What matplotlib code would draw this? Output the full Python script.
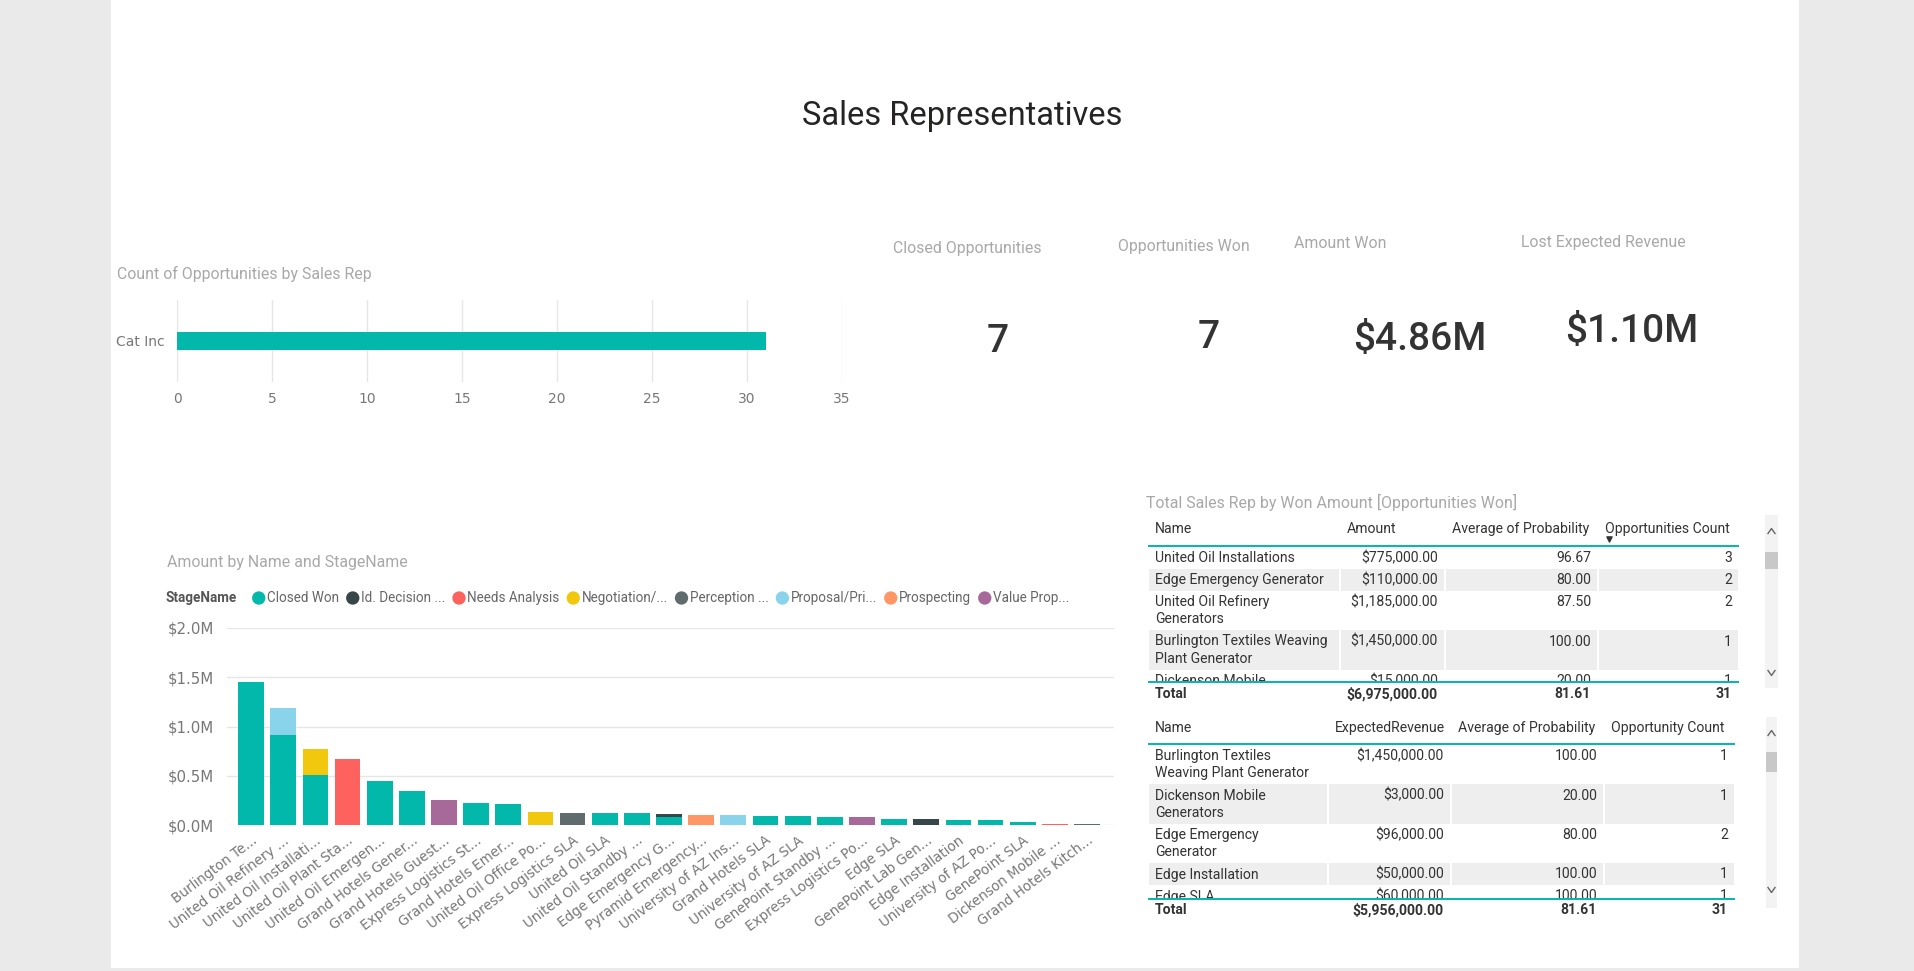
import matplotlib
matplotlib.use('Agg')
import matplotlib.pyplot as plt
from matplotlib.font_manager import FontProperties, fontManager
from matplotlib.patches import Rectangle
from matplotlib.transforms import Bbox
import numpy as np

# ---------------- data ----------------
rep_names = ["Cat Inc"]
rep_counts = [31]
rep_ticks = [0, 5, 10, 15, 20, 25, 30, 35]

kpi_labels = ["Closed Opportunities", "Opportunities Won", "Amount Won", "Lost Expected Revenue"]
kpi_values = ["7", "7", "$4.86M", "$1.10M"]

opp_labels = ["Burlington Te...", "United Oil Refinery ...", "United Oil Installati...",
              "United Oil Plant Sta...", "United Oil Emergen...", "Grand Hotels Gener...",
              "Grand Hotels Guest...", "Express Logistics St...", "Grand Hotels Emer...",
              "United Oil Office Po...", "Express Logistics SLA", "United Oil SLA",
              "United Oil Standby ...", "Edge Emergency G...", "Pyramid Emergency...",
              "University of AZ Ins...", "Grand Hotels SLA", "University of AZ SLA",
              "GenePoint Standby ...", "Express Logistics Po...", "Edge SLA",
              "GenePoint Lab Gen...", "Edge Installation", "University of AZ Po...",
              "GenePoint SLA", "Dickenson Mobile ...", "Grand Hotels Kitch..."]
stage_names = ["Closed Won", "Id. Decision ...", "Needs Analysis", "Negotiation/...",
               "Perception ...", "Proposal/Pri...", "Prospecting", "Value Prop..."]
stage_colors = ["#01B8AA", "#374649", "#FD625E", "#F2C80F", "#5F6B6D", "#8AD4EB", "#FE9666", "#A66999"]
closed_won     = [1450000, 915000, 505000, 0, 450000, 350000, 0, 220000, 210000, 0, 0, 120000, 120000,
                  80000, 0, 0, 90000, 90000, 85000, 0, 60000, 0, 50000, 50000, 30000, 0, 0]
id_decision    = [0]*13 + [30000] + [0]*7 + [60000] + [0]*5
needs_analysis = [0, 0, 0, 675000] + [0]*21 + [15000, 0]
negotiation    = [0, 0, 270000] + [0]*6 + [130000] + [0]*17
perception     = [0]*10 + [120000] + [0]*15 + [15000]
proposal       = [0, 270000] + [0]*13 + [100000] + [0]*11
prospecting    = [0]*14 + [100000] + [0]*12
value_prop     = [0]*6 + [250000] + [0]*12 + [80000] + [0]*7
amount_ticks = [0, 500000, 1000000, 1500000, 2000000]
amount_tick_labels = ["$0.0M", "$0.5M", "$1.0M", "$1.5M", "$2.0M"]

t1_title = "Total Sales Rep by Won Amount [Opportunities Won]"
t1_cols = ["Name", "Amount", "Average of Probability", "Opportunities Count"]
t1_names = ["United Oil Installations", "Edge Emergency Generator", "United Oil Refinery\nGenerators",
            "Burlington Textiles Weaving\nPlant Generator", "Dickenson Mobile\nGenerators"]
t1_amount = [775000, 110000, 1185000, 1450000, 15000]
t1_prob = [96.67, 80.00, 87.50, 100.00, 20.00]
t1_count = [3, 2, 2, 1, 1]
t1_total = [6975000, 81.61, 31]

t2_cols = ["Name", "ExpectedRevenue", "Average of Probability", "Opportunity Count"]
t2_names = ["Burlington Textiles\nWeaving Plant Generator", "Dickenson Mobile\nGenerators",
            "Edge Emergency\nGenerator", "Edge Installation", "Edge SLA"]
t2_revenue = [1450000, 3000, 96000, 50000, 60000]
t2_prob = [100.00, 20.00, 80.00, 100.00, 100.00]
t2_count = [1, 1, 2, 1, 1]
t2_total = [5956000, 81.61, 31]

# ---------------- fonts ----------------
avail = {f.name for f in fontManager.ttflist}
BODY = 'Roboto' if 'Roboto' in avail else 'DejaVu Sans'
TITLE_FONT = BODY
KPI_FONT = 'Liberation Sans Narrow' if 'Liberation Sans Narrow' in avail else BODY

W, H = 1915, 971
fig = plt.figure(figsize=(W / 100, H / 100), dpi=100)
fig.patch.set_facecolor('#EAEAEA')
R = fig.canvas.get_renderer()


def tw(s, family, weight='normal', size=10):
    fp = FontProperties(family=family, weight=weight, size=size)
    return R.get_text_width_height_descent(s, fp, ismath=False)[0]


def fit(s, target, family, weight='normal'):
    return 10.0 * target / tw(s, family, weight)


title_sz = fit("Sales Representatives", 321, TITLE_FONT)
card_sz = fit("Closed Opportunities", 148, BODY)
kpi_sz = fit("$4.86M", 133, KPI_FONT, 'medium')
ctitle_sz = fit("Count of Opportunities by Sales Rep", 254, BODY)
legend_sz = fit("Closed Won", 72, BODY)
tick_sz = fit("$0.0M", 42, BODY)
cat_sz = fit("Cat Inc", 43, BODY)
table_sz = fit("United Oil Installations", 139, BODY)
ttitle_sz = fit(t1_title, 369, BODY)

# overlay axes in pixel coordinates
ov = fig.add_axes([0, 0, 1, 1], zorder=-1)
ov.set_xlim(0, W)
ov.set_ylim(H, 0)
ov.axis('off')
ov.add_patch(Rectangle((111, 0), 1799 - 111, 968, facecolor='white', edgecolor='none'))

TXT = '#333333'
LIGHT = '#A8A8A8'
TICK = '#777777'
TEAL = '#01B8AA'


def T(x, y, s, size, color=TXT, ha='left', va='center', family=BODY, weight='normal', **kw):
    return ov.text(x, y, s, fontsize=size, color=color, ha=ha, va=va, family=family,
                   fontweight=weight, **kw)


# title
T(962, 116, "Sales Representatives", title_sz, color='#252423', ha='center', family=TITLE_FONT)

# ---------------- horizontal bar chart ----------------
T(117, 274, "Count of Opportunities by Sales Rep", ctitle_sz, color=LIGHT)
ax1 = fig.add_axes([177 / W, 1 - 382 / H, (842 - 177) / W, (382 - 300) / H])
ax1.set_facecolor('none')
ax1.barh(np.arange(len(rep_names)), rep_counts, height=0.21, color=TEAL, zorder=3)
ax1.set_xlim(0, 35)
ax1.set_ylim(-0.5, 0.5)
ax1.set_xticks(rep_ticks)
ax1.set_yticks(np.arange(len(rep_names)))
ax1.set_yticklabels(rep_names)
ax1.grid(axis='x', color='#E6E6E6', lw=1, zorder=0)
for s in ax1.spines.values():
    s.set_visible(False)
ax1.tick_params(axis='both', length=0, colors=TICK)
ax1.tick_params(axis='x', labelsize=cat_sz, pad=7)
ax1.tick_params(axis='y', labelsize=cat_sz, pad=9)

# ---------------- KPI cards ----------------
card_label_pos = [(967, 249), (1184, 246), (1340, 243), (1603, 242)]
card_value_pos = [(998, 342), (1209, 338), (1420, 340), (1632, 331)]
for lbl, val, (lx, ly), (vx, vy) in zip(kpi_labels, kpi_values, card_label_pos, card_value_pos):
    T(lx, ly, lbl, card_sz, color=LIGHT, ha='center')
    T(vx, vy, val, kpi_sz, color='#333333', ha='center', family=KPI_FONT, weight='medium')

# ---------------- stacked column chart ----------------
T(167, 563, "Amount by Name and StageName", ctitle_sz, color=LIGHT)
T(166, 598, "StageName", legend_sz, color='#555555', weight='bold')
x = 166 + tw("StageName", BODY, 'bold', legend_sz) + 15
for name, col in zip(stage_names, stage_colors):
    ov.scatter([x + 6.5], [598], s=92, color=col, edgecolors='none')
    T(x + 15, 598, name, legend_sz, color='#666666')
    x = x + 15 + tw(name, BODY, 'normal', legend_sz) + 7

ax2 = fig.add_axes([227 / W, 1 - 825 / H, (1114 - 227) / W, (825 - 628) / H])
ax2.set_facecolor('none')
xs = np.arange(len(opp_labels))
bottom = np.zeros(len(opp_labels))
for series, col in zip([closed_won, id_decision, needs_analysis, negotiation, perception,
                        proposal, prospecting, value_prop], stage_colors):
    vals = np.array(series, dtype=float)
    ax2.bar(xs, vals, bottom=bottom, width=0.8, color=col, zorder=3)
    bottom += vals
ax2.set_xlim(-0.75, 26.84)
ax2.set_ylim(0, 2000000)
ax2.set_yticks(amount_ticks)
ax2.set_yticklabels(amount_tick_labels)
ax2.set_xticks(xs)
ax2.set_xticklabels(opp_labels, rotation=37, ha='right', rotation_mode='anchor')
ax2.grid(axis='y', color='#E6E6E6', lw=1, zorder=0)
for s in ax2.spines.values():
    s.set_visible(False)
ax2.tick_params(axis='both', length=0, colors=TICK)
ax2.tick_params(axis='y', labelsize=tick_sz, pad=9)
ax2.tick_params(axis='x', labelsize=legend_sz, pad=6)


# ---------------- tables ----------------
def money(v):
    return "${:,.2f}".format(v)


def draw_table(cols, bounds, header_y, line_y, rows, row_h, total_line, total_y, total_vals):
    for c, bl in zip(cols, bounds[:-1]):
        T(bl + 7, header_y, c, table_sz, color=TXT)
    ov.plot([bounds[0], bounds[-1]], [line_y, line_y], color=TEAL, lw=1.4, solid_capstyle='butt')
    clip = Rectangle((bounds[0], line_y), bounds[-1] - bounds[0], total_line - line_y,
                     transform=ov.transData, facecolor='none', edgecolor='none')
    ov.add_patch(clip)
    # display-space clip box (1 data unit == 1 pixel, y flipped)
    cbox = Bbox.from_extents(bounds[0], H - total_line + 1, bounds[-1], H - line_y)
    top = line_y + 1
    for i, (cells, h) in enumerate(zip(rows, row_h)):
        if i % 2 == 1:
            for j in range(len(bounds) - 1):
                r = Rectangle((bounds[j] + 1, top), bounds[j + 1] - bounds[j] - 2, h,
                              facecolor='#EEEEEE', edgecolor='none')
                ov.add_patch(r)
                r.set_clip_path(clip)
        ty = top + 11
        partial = top + h > total_line  # row cut by the total line: only its first line shows
        for j, cell in enumerate(cells):
            if j == 0:
                if partial:
                    cell = cell.split('\n')[0]
                t = T(bounds[0] + 7, ty, cell, table_sz, linespacing=1.3)
                if '\n' in cell:
                    t.set_va('top')
                    t.set_y(top + 4)
            else:
                t = T(bounds[j + 1] - 7, ty, cell, table_sz, ha='right')
            t.set_clip_on(True)
            t.set_clip_box(cbox)
        top += h
    ov.plot([bounds[0], bounds[-1]], [total_line, total_line], color=TEAL, lw=1.4, solid_capstyle='butt')
    T(bounds[0] + 7, total_y, "Total", table_sz, weight='bold')
    for j, v in enumerate(total_vals):
        T(bounds[j + 2] - 7, total_y, v, table_sz, ha='right', weight='bold')


def scrollbar(x0, x1, y0, y1, th0, th1, up_y, dn_y):
    ov.add_patch(Rectangle((x0, y0), x1 - x0, y1 - y0, facecolor='#F3F3F3', edgecolor='none'))
    ov.add_patch(Rectangle((x0, th0), x1 - x0, th1 - th0, facecolor='#C8C8C8', edgecolor='none'))
    cx = (x0 + x1) / 2
    ov.plot([cx - 3.5, cx, cx + 3.5], [up_y + 2.5, up_y - 2.5, up_y + 2.5], color='#666666', lw=1)
    ov.plot([cx - 3.5, cx, cx + 3.5], [dn_y - 2.5, dn_y + 2.5, dn_y - 2.5], color='#666666', lw=1)


T(1146, 502, t1_title, ttitle_sz, color=LIGHT)
rows1 = [[n, money(a), "{:.2f}".format(p), str(c)] for n, a, p, c in zip(t1_names, t1_amount, t1_prob, t1_count)]
h1 = [22 if '\n' not in n else 39.5 for n in t1_names]
draw_table(t1_cols, [1148, 1340, 1445, 1598, 1739], 529, 546, rows1, h1, 682, 694,
           [money(t1_total[0]), "{:.2f}".format(t1_total[1]), str(t1_total[2])])
ov.scatter([1609], [539], marker='v', s=14, color='#333333')
scrollbar(1765, 1778, 515, 688, 552, 569, 531, 673)

rows2 = [[n, money(a), "{:.2f}".format(p), str(c)] for n, a, p, c in zip(t2_names, t2_revenue, t2_prob, t2_count)]
h2 = [22 if '\n' not in n else 39.5 for n in t2_names]
draw_table(t2_cols, [1148, 1328, 1451, 1604, 1735], 728, 744, rows2, h2, 899, 910,
           [money(t2_total[0]), "{:.2f}".format(t2_total[1]), str(t2_total[2])])
scrollbar(1766, 1777, 717, 908, 752, 772, 733, 890)

fig.savefig('out.png', dpi=100, facecolor=fig.get_facecolor())
